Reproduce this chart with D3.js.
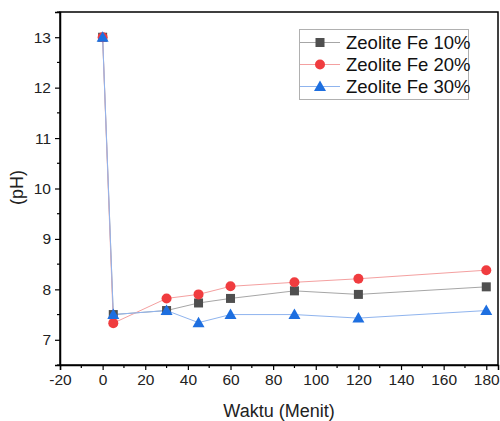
<!DOCTYPE html>
<html><head><meta charset="utf-8">
<script src="https://cdn.jsdelivr.net/npm/d3@7"></script>
<style>body{margin:0;background:#fff}svg{display:block;font-family:"Liberation Sans",Arial,sans-serif}</style>
</head><body><svg id="c" width="500" height="421"></svg>
<script>
const times = [0, 5, 30, 45, 60, 90, 120, 180];
const fe10 = [13, 7.5, 7.58, 7.73, 7.82, 7.97, 7.9, 8.05];
const fe20 = [13, 7.33, 7.82, 7.9, 8.06, 8.14, 8.21, 8.38];
const fe30 = [13, 7.5, 7.58, 7.34, 7.5, 7.5, 7.43, 7.58];
const seriesNames = ["Zeolite Fe 10%", "Zeolite Fe 20%", "Zeolite Fe 30%"];
const xTicks = [-20, 0, 20, 40, 60, 80, 100, 120, 140, 160, 180];
const yTicks = [7, 8, 9, 10, 11, 12, 13];

const svg = d3.select("#c");
const L = 60, R = 498, T = 12, B = 365;
const x = d3.scaleLinear().domain([-20, 185.5]).range([L, R]);
const y = d3.scaleLinear().domain([6.5, 13.5]).range([B, T]);

const styles = [
  {line: "#a6a6a6", fill: "#4f4f4f", shape: "square"},
  {line: "#f4a0a0", fill: "#f03c3f", shape: "circle"},
  {line: "#8fb4ee", fill: "#1e6fe0", shape: "triangle"}
];
const data = [fe10, fe20, fe30];

// frame
svg.append("rect").attr("x", L).attr("y", T).attr("width", R - L).attr("height", B - T)
  .attr("fill", "none").attr("stroke", "#000").attr("stroke-width", 1.5);

// axes
const fmt = d => String(d);
const xAxis = d3.axisBottom(x).tickValues(xTicks).tickSize(5).tickPadding(4).tickFormat(fmt);
const gx = svg.append("g").attr("transform", `translate(0,${B})`).call(xAxis);
const xMinor = d3.range(-10, 185, 20);
svg.append("g").selectAll("line").data(xMinor).join("line")
  .attr("x1", d => x(d)).attr("x2", d => x(d)).attr("y1", B).attr("y2", B + 3)
  .attr("stroke", "#000").attr("stroke-width", 1.2);

const yAxis = d3.axisLeft(y).tickValues(yTicks).tickSize(5).tickPadding(4).tickFormat(fmt);
const gy = svg.append("g").attr("transform", `translate(${L},0)`).call(yAxis);
const yMinor = d3.range(6.5, 13.6, 1);
svg.append("g").selectAll("line").data(yMinor).join("line")
  .attr("x1", L - 3).attr("x2", L).attr("y1", d => y(d)).attr("y2", d => y(d))
  .attr("stroke", "#000").attr("stroke-width", 1.2);

[gx, gy].forEach(g => {
  g.select(".domain").attr("stroke-width", 1.5);
  g.selectAll(".tick line").attr("stroke-width", 1.2);
  g.selectAll(".tick text").attr("font-size", 15.5).attr("fill", "#222")
   .attr("font-family", "'Liberation Sans', Arial, sans-serif");
});

// titles
svg.append("text").attr("x", (L + R) / 2).attr("y", 417).attr("text-anchor", "middle")
  .attr("font-size", 18).attr("fill", "#222").text("Waktu (Menit)");
svg.append("text").attr("transform", `translate(23,${(T + B) / 2 - 1}) rotate(-90)`)
  .attr("text-anchor", "middle").attr("font-size", 18).attr("fill", "#222").text("(pH)");

function drawMarker(g, shape, fill, cx, cy) {
  if (shape === "square") {
    g.append("rect").attr("x", cx - 4.5).attr("y", cy - 4.5).attr("width", 9).attr("height", 9).attr("fill", fill);
  } else if (shape === "circle") {
    g.append("circle").attr("cx", cx).attr("cy", cy).attr("r", 5).attr("fill", fill);
  } else {
    g.append("path").attr("d", `M${cx},${cy - 6}L${cx + 6},${cy + 4.5}L${cx - 6},${cy + 4.5}Z`).attr("fill", fill);
  }
}

const line = d3.line().x((d, i) => x(times[i])).y(d => y(d));
const plot = svg.append("g");
data.forEach((vals, k) => {
  plot.append("path").attr("d", line(vals)).attr("fill", "none")
    .attr("stroke", styles[k].line).attr("stroke-width", 1);
});
data.forEach((vals, k) => {
  vals.forEach((v, i) => drawMarker(plot, styles[k].shape, styles[k].fill, x(times[i]), y(v)));
});

// legend
const lg = svg.append("g");
lg.append("rect").attr("x", 299.5).attr("y", 29.5).attr("width", 169).attr("height", 70)
  .attr("fill", "#fff").attr("stroke", "#b0b0b0").attr("stroke-width", 1);
seriesNames.forEach((name, k) => {
  const cy = 42.5 + k * 22;
  lg.append("line").attr("x1", 300).attr("x2", 340).attr("y1", cy).attr("y2", cy)
    .attr("stroke", styles[k].line).attr("stroke-width", 1);
  drawMarker(lg, styles[k].shape, styles[k].fill, 320, cy);
  lg.append("text").attr("x", 346).attr("y", cy + 6.5).attr("font-size", 18.5).attr("fill", "#111").text(name);
});
</script></body></html>
